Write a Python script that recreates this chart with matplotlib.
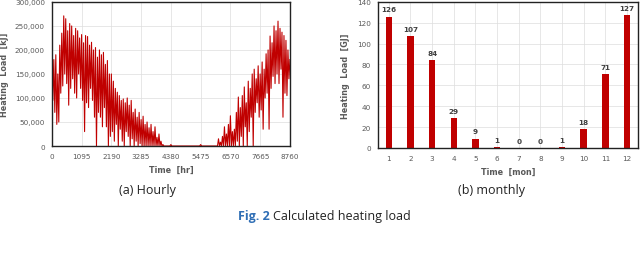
"""Calculated heating load: hourly trace (a) and monthly totals (b)."""

import numpy as np
import matplotlib
matplotlib.use("Agg")
import matplotlib.pyplot as plt
from matplotlib.ticker import StrMethodFormatter

RED = "#C00000"
GRID = "#DDDDDD"
TICK_GREY = "#595959"

# hourly heating load [kJ x 1000] (one value every 36.5 h)
HOURLY_LOAD_K = [
    165, 95, 180, 70, 190, 45, 150, 50, 210, 110, 235, 125, 271,
    150, 265, 130, 240, 85, 255, 120, 250, 140, 230, 110, 245,
    100, 240, 150, 225, 120, 232, 95, 215, 30, 230, 90, 228,
    80, 210, 120, 216, 95, 200, 60, 205, 0, 185, 70, 200,
    60, 190, 40, 195, 80, 170, 40, 178, 0, 150, 20, 150,
    30, 135, 10, 120, 45, 112, 0, 105, 35, 95, 10, 98,
    0, 90, 30, 100, 20, 85, 0, 95, 15, 70, 0, 77,
    10, 60, 0, 70, 5, 55, 0, 62, 0, 45, 0, 50,
    0, 38, 0, 45, 0, 30, 0, 40, 0, 18, 0, 25,
    0, 10, 0, 3, 0, 0, 0, 0, 0, 0, 0, 3,
    0, 0, 0, 0, 0, 0, 0, 0, 0, 0, 0, 0, 0, 0, 0, 0, 0, 0, 0, 0,
    0, 0, 0, 0, 0, 0, 0, 0, 0, 3,
    0, 0, 0, 0, 0, 0, 0, 0, 0, 0, 0, 0, 0, 0, 0, 0, 0,
    15, 0, 8, 0, 20, 0, 40, 0, 25, 0, 45, 0, 63,
    0, 30, 0, 35, 0, 70, 10, 102, 0, 80, 20, 105,
    0, 123, 40, 90, 0, 135, 30, 120, 60, 150, 0, 160,
    70, 140, 90, 167, 60, 150, 75, 175, 35, 160, 100, 192,
    110, 200, 35, 229, 120, 215, 145, 250, 130, 240, 150, 260,
    130, 245, 160, 237, 60, 230, 110, 220, 105, 200, 140, 180,
]
HOURLY_LOAD = np.array(HOURLY_LOAD_K) * 1000.0
HOURS = np.linspace(0, 8760, len(HOURLY_LOAD))
HOUR_TICKS = [0, 1095, 2190, 3285, 4380, 5475, 6570, 7665, 8760]

MONTHS = list(range(1, 13))
MONTHLY_LOAD_GJ = [126, 107, 84, 29, 9, 1, 0, 0, 1, 18, 71, 127]


def _style_axes(ax):
    ax.grid(True, color=GRID, linewidth=0.5)
    ax.set_axisbelow(True)
    for sp in ax.spines.values():
        sp.set_linewidth(1.0)
        sp.set_color("#222222")
    ax.tick_params(length=0, labelsize=5.2, labelcolor=TICK_GREY, pad=5)


fig = plt.figure(figsize=(6.4, 2.55), dpi=100)

# (a) hourly
ax1 = fig.add_axes([0.081, 0.4235, 0.372, 0.565])
ax1.plot(HOURS, HOURLY_LOAD, color=RED, linewidth=0.8)
ax1.set_xlim(0, 8760)
ax1.set_ylim(0, 300000)
ax1.set_xticks(HOUR_TICKS)
ax1.set_yticks(np.arange(0, 300001, 50000))
ax1.yaxis.set_major_formatter(StrMethodFormatter("{x:,.0f}"))
_style_axes(ax1)
ax1.set_xlabel("Time  [hr]", fontsize=5.8, color=TICK_GREY, fontweight="bold", labelpad=4)
ax1.set_ylabel("Heating  Load  [kJ]", fontsize=5.8, color=TICK_GREY, fontweight="bold", labelpad=4)

# (b) monthly
ax2 = fig.add_axes([0.5906, 0.416, 0.406, 0.5725])
bars = ax2.bar(MONTHS, MONTHLY_LOAD_GJ, width=0.3, color=RED)
ax2.bar_label(bars, labels=[str(v) for v in MONTHLY_LOAD_GJ], padding=3,
              fontsize=5.2, color="#404040", fontweight="bold")
ax2.set_xlim(0.5, 12.5)
ax2.set_ylim(0, 140)
ax2.set_xticks(MONTHS)
ax2.set_yticks(np.arange(0, 141, 20))
_style_axes(ax2)
ax2.set_xlabel("Time  [mon]", fontsize=5.8, color=TICK_GREY, fontweight="bold", labelpad=4)
ax2.set_ylabel("Heating  Load  [GJ]", fontsize=5.8, color=TICK_GREY, fontweight="bold", labelpad=5)

cap = dict(fontsize=9, color="#222222", family="Open Sans", va="center")
fig.text(0.231, 0.252, "(a) Hourly", ha="center", **cap)
fig.text(0.768, 0.252, "(b) monthly", ha="center", **cap)
fig.text(0.4219, 0.150, "Fig. 2", ha="right", fontsize=9, color="#2F6EB5",
         family="Open Sans", fontweight="bold", va="center")
fig.text(0.4266, 0.150, "Calculated heating load", ha="left", **cap)

fig.savefig("out.png", dpi=100)
